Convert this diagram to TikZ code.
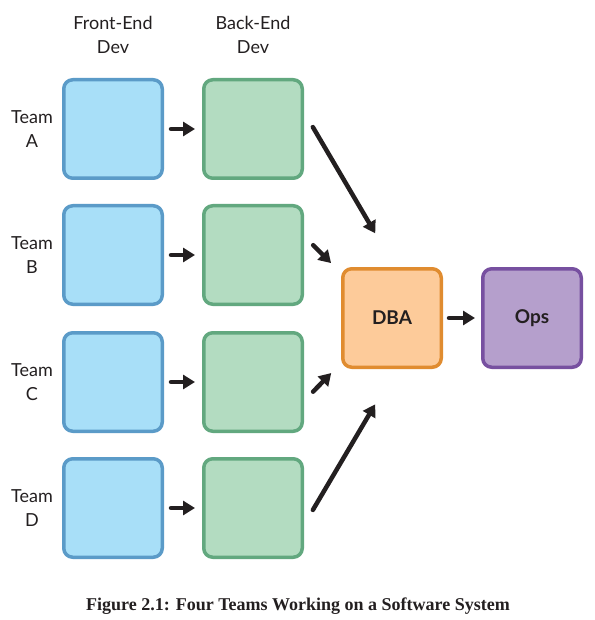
\documentclass[tikz,border=0pt]{standalone}
\usepackage{fontspec}
\setmainfont{Lato}
\newfontfamily\capfont{Liberation Serif}
\usetikzlibrary{arrows.meta}
\definecolor{feFill}{HTML}{A8DFF8}
\definecolor{feLine}{HTML}{5B9BC8}
\definecolor{beFill}{HTML}{B3DCC1}
\definecolor{beLine}{HTML}{62A87F}
\definecolor{dbaFill}{HTML}{FDCB9A}
\definecolor{dbaLine}{HTML}{E08C30}
\definecolor{opsFill}{HTML}{B59FCC}
\definecolor{opsLine}{HTML}{7750A0}
\definecolor{ink}{HTML}{231F20}
\tikzset{
  box/.style={draw, line width=3.5pt, rounded corners=9pt, minimum width=98.5pt, minimum height=98.5pt, inner sep=0pt, text=ink},
  febox/.style={box, fill=feFill, draw=feLine},
  bebox/.style={box, fill=beFill, draw=beLine},
  dbabox/.style={box, fill=dbaFill, draw=dbaLine, font=\fontsize{19}{22}\selectfont\bfseries},
  opsbox/.style={box, fill=opsFill, draw=opsLine, font=\fontsize{19}{22}\selectfont\bfseries},
  lbl/.style={align=center, text=ink, font=\fontsize{18}{24}\selectfont, inner sep=0pt},
  flow/.style={draw=ink, line width=4.5pt, line cap=round, -{Triangle[length=12pt,width=14pt]}}
}
\begin{document}
\begin{tikzpicture}[x=1pt,y=-1pt]
\useasboundingbox (0,0) rectangle (594,620);
% headers
\node[lbl] (hfe) at (113,35) {Front-End\\Dev};
\node[lbl] (hbe) at (253,35) {Back-End\\Dev};
% rows
\foreach \r/\y in {A/129,B/255,C/382,D/508}{
  \node[lbl] (t\r) at (32,\y) {Team\\\r};
  \node[febox] (fe\r) at (113,\y) {};
  \node[bebox] (be\r) at (253,\y) {};
  \draw[flow, shorten <=7pt, shorten >=7pt] (fe\r) -- (be\r);
}
\node[dbabox] (dba) at (392,318) {DBA};
\node[opsbox] (ops) at (532,318) {Ops};
\draw[flow, shorten <=17.5pt, shorten >=39pt] ([yshift=17pt]beA.east) -- ([xshift=3pt]dba.north);
\draw[flow, shorten <=13pt, shorten >=14pt] ([yshift=19pt]beB.east) -- ([yshift=45pt]dba.west);
\draw[flow, shorten <=13pt, shorten >=14pt] ([yshift=-19pt]beC.east) -- ([yshift=-45pt]dba.west);
\draw[flow, shorten <=17.5pt, shorten >=41pt] ([yshift=-17pt]beD.east) -- ([xshift=4pt]dba.south);
\draw[flow, shorten <=6pt, shorten >=6pt] (dba) -- (ops);
% caption
\node[text=ink, font=\capfont\fontsize{18}{21}\selectfont\bfseries] (cap) at (298,606) {Figure 2.1: Four Teams Working on a Software System};
\end{tikzpicture}
\end{document}
